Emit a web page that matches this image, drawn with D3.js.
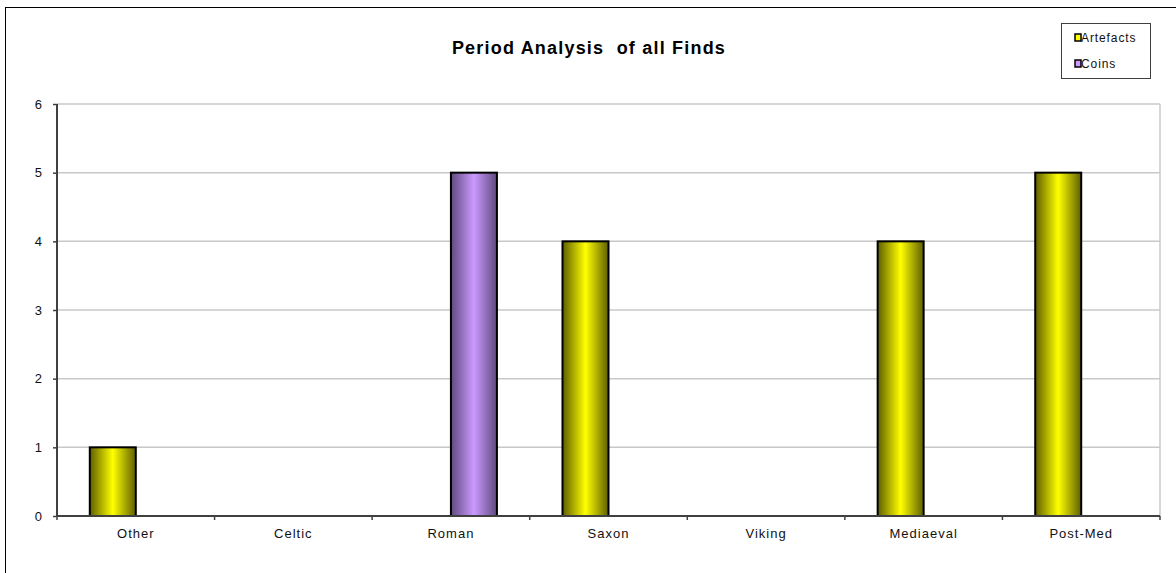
<!DOCTYPE html>
<html>
<head>
<meta charset="utf-8">
<script src="https://cdn.jsdelivr.net/npm/d3@7"></script>
<style>
  body { margin: 0; background: #fff; }
  svg { display: block; font-family: "Liberation Sans", Arial, sans-serif; }
</style>
</head>
<body>
<svg id="chart" width="1176" height="573"></svg>
<script>
// chart data
var categories = ["Other", "Celtic", "Roman", "Saxon", "Viking", "Mediaeval", "Post-Med"];
var artefacts = [1, 0, 0, 4, 0, 4, 5];
var coins = [0, 0, 5, 0, 0, 0, 0];
var seriesNames = ["Artefacts", "Coins"];
var yTicks = [0, 1, 2, 3, 4, 5, 6];

var svgWidth = 1176, svgHeight = 573;
var margin = { top: 104, right: 16, bottom: 57, left: 57 };
var width = 1160 - margin.left;
var height = 516 - margin.top;

var svg = d3.select("#chart");

// gradients to mimic the excel shaded bars
var defs = svg.append("defs");
function shade(id, edge, mid) {
  var g = defs.append("linearGradient").attr("id", id)
    .attr("x1", "0%").attr("x2", "100%").attr("y1", "0%").attr("y2", "0%");
  g.append("stop").attr("offset", "0%").attr("stop-color", edge);
  g.append("stop").attr("offset", "50%").attr("stop-color", mid);
  g.append("stop").attr("offset", "100%").attr("stop-color", edge);
}
shade("gradArt", "#5e5e00", "#ffff00");
shade("gradCoin", "#5f4a7e", "#cc99ff");
var fills = ["url(#gradArt)", "url(#gradCoin)"];
var swatch = ["#ffff00", "#cc99ff"];

// outer chart border
svg.append("rect")
  .attr("x", 5.5).attr("y", 7.5)
  .attr("width", 1200).attr("height", 600)
  .attr("fill", "none").attr("stroke", "#000").attr("stroke-width", 1);

svg.append("text")
  .attr("x", 589).attr("y", 54)
  .attr("text-anchor", "middle")
  .attr("font-size", 18).attr("font-weight", "bold")
  .attr("letter-spacing", 1.2)
  .style("white-space", "pre")
  .attr("fill", "#000")
  .text("Period Analysis  of all Finds");

var g = svg.append("g")
  .attr("transform", "translate(" + margin.left + "," + margin.top + ")");

var x = d3.scaleBand().domain(categories).range([0, width]);
var y = d3.scaleLinear().domain([0, 6]).range([height, 0]);
var barW = 46;

// gridlines
g.selectAll(".grid").data(yTicks.slice(1)).enter().append("line")
  .attr("x1", 0).attr("x2", width)
  .attr("y1", function(d) { return y(d); })
  .attr("y2", function(d) { return y(d); })
  .attr("stroke", "#c8c8c8").attr("stroke-width", 1.5);
g.append("line")
  .attr("x1", width).attr("x2", width).attr("y1", 0).attr("y2", height)
  .attr("stroke", "#c8c8c8").attr("stroke-width", 1.5);

// bars
var data = [];
categories.forEach(function(c, i) {
  data.push({ cat: c, s: 0, v: artefacts[i] });
  data.push({ cat: c, s: 1, v: coins[i] });
});
g.selectAll(".bar").data(data.filter(function(d) { return d.v > 0; }))
  .enter().append("rect")
  .attr("x", function(d) { return x(d.cat) + x.bandwidth() / 2 - barW + d.s * barW; })
  .attr("y", function(d) { return y(d.v); })
  .attr("width", barW)
  .attr("height", function(d) { return height - y(d.v); })
  .attr("fill", function(d) { return fills[d.s]; })
  .attr("stroke", "#000").attr("stroke-width", 2);

// axes
var yAxis = g.append("g")
  .call(d3.axisLeft(y).tickValues(yTicks).tickSize(4).tickPadding(10).tickFormat(d3.format("d")));
var xAxis = g.append("g")
  .attr("transform", "translate(0," + height + ")")
  .call(d3.axisBottom(x).tickSize(0).tickPadding(13));
// category boundary ticks
g.selectAll(".xtick").data(d3.range(categories.length + 1)).enter().append("line")
  .attr("x1", function(d) { return d * x.step(); })
  .attr("x2", function(d) { return d * x.step(); })
  .attr("y1", height).attr("y2", height + 4)
  .attr("stroke", "#404040").attr("stroke-width", 1.5);

[yAxis, xAxis].forEach(function(a) {
  a.select(".domain").attr("stroke", "#404040").attr("stroke-width", 2);
  a.selectAll(".tick line").attr("stroke", "#404040").attr("stroke-width", 1.5);
  a.selectAll("text").attr("font-size", 13).attr("fill", "#111")
    .attr("letter-spacing", 1)
    .attr("font-family", "'Liberation Sans', Arial, sans-serif");
});
yAxis.select(".domain").attr("d", "M0," + height + "V0");
xAxis.select(".domain").attr("d", "M0,0H" + width);

// legend
var lg = svg.append("g");
lg.append("rect")
  .attr("x", 1061.5).attr("y", 23.5).attr("width", 89).attr("height", 55)
  .attr("fill", "#fff").attr("stroke", "#404040").attr("stroke-width", 1);
seriesNames.forEach(function(n, i) {
  var yy = 38 + i * 26;
  lg.append("rect")
    .attr("x", 1075).attr("y", yy - 4).attr("width", 6).attr("height", 7)
    .attr("fill", swatch[i]).attr("stroke", "#000").attr("stroke-width", 1.5);
  lg.append("text")
    .attr("x", 1081).attr("y", yy + 4)
    .attr("font-size", 12).attr("letter-spacing", 0.9).attr("fill", "#111")
    .text(n);
});
</script>
</body>
</html>
